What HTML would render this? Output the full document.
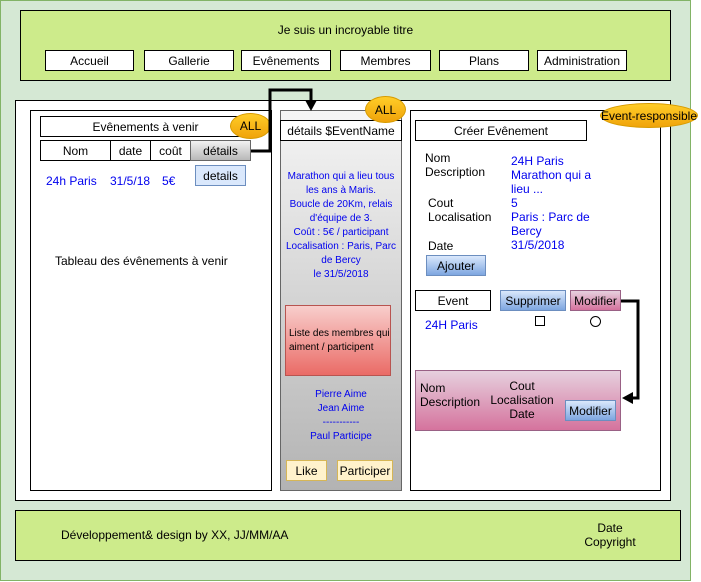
<!DOCTYPE html>
<html><head><meta charset="utf-8"><style>
body{margin:0;width:701px;height:582px;position:relative;background:#fff;font-family:"Liberation Sans",sans-serif;overflow:hidden}
.a{position:absolute;box-sizing:border-box}
.b{border:1px solid #000}
.c{display:flex;align-items:center;justify-content:center;text-align:center}
.t{position:absolute;font-size:12px;white-space:nowrap}
.blue{color:#0000ee}
.s{font-size:10px}
.ell{position:absolute;border-radius:50%;background:linear-gradient(#ffcd28,#f0a30a);border:1px solid #d79b00;box-sizing:border-box;display:flex;align-items:center;justify-content:center;font-size:12px;white-space:nowrap}
</style></head><body>
<div class="a" style="left:0;top:0;width:691px;height:581px;background:#d5e8d4;border:1px solid #82b366"></div>
<div class="a b" style="left:20px;top:10px;width:651px;height:71px;background:#cdeb8b"></div>
<div class="t" style="left:20px;width:651px;top:23px;text-align:center">Je suis un incroyable titre</div>
<div class="a b c" style="left:45px;top:50px;width:89px;height:21px;background:#fff;font-size:12px">Accueil</div>
<div class="a b c" style="left:144px;top:50px;width:90px;height:21px;background:#fff;font-size:12px">Gallerie</div>
<div class="a b c" style="left:241px;top:50px;width:90px;height:21px;background:#fff;font-size:12px">Evênements</div>
<div class="a b c" style="left:340px;top:50px;width:91px;height:21px;background:#fff;font-size:12px">Membres</div>
<div class="a b c" style="left:439px;top:50px;width:90px;height:21px;background:#fff;font-size:12px">Plans</div>
<div class="a b c" style="left:537px;top:50px;width:90px;height:21px;background:#fff;font-size:12px">Administration</div>

<div class="a b" style="left:15px;top:100px;width:656px;height:401px;background:#fff"></div>
<!-- left -->
<div class="a b" style="left:30px;top:110px;width:242px;height:381px;background:#fff"></div>
<div class="a b c" style="left:40px;top:116px;width:211px;height:21px;font-size:12px">Evênements à venir</div>
<div class="a b c" style="left:40px;top:140px;width:71px;height:21px;font-size:12px">Nom</div>
<div class="a b c" style="left:110px;top:140px;width:41px;height:21px;font-size:12px">date</div>
<div class="a b c" style="left:150px;top:140px;width:41px;height:21px;font-size:12px">coût</div>
<div class="a b c" style="left:190px;top:140px;width:61px;height:21px;font-size:12px;background:linear-gradient(#f2f2f2,#b8b8b8);border-color:#666">détails</div>
<div class="t blue" style="left:46px;top:174px">24h Paris</div>
<div class="t blue" style="left:110px;top:174px">31/5/18</div>
<div class="t blue" style="left:162px;top:174px">5€</div>
<div class="a c" style="left:195px;top:165px;width:51px;height:21px;font-size:12px;background:#dae8fc;border:1px solid #6c8ebf">details</div>
<div class="t" style="left:55px;top:254px">Tableau des évênements à venir</div>
<div class="ell" style="left:230px;top:113px;width:41px;height:26px">ALL</div>
<!-- middle -->
<div class="a" style="left:280px;top:110px;width:122px;height:381px;background:linear-gradient(#f5f5f5,#b3b3b3);border:1px solid #666"></div>
<div class="a b c" style="left:280px;top:120px;width:122px;height:21px;background:#fff;font-size:12px">détails $EventName</div>
<div class="t blue s" style="left:281px;width:120px;top:170px;text-align:center;line-height:14px;white-space:normal">Marathon qui a lieu tous les ans à Maris.<br>Boucle de 20Km, relais d'équipe de 3.<br>Coût : 5€ / participant<br>Localisation : Paris, Parc de Bercy<br>le 31/5/2018</div>
<div class="a" style="left:285px;top:305px;width:106px;height:71px;background:linear-gradient(#f8cecc,#ea6b66);border:1px solid #b85450;font-size:10px;display:flex;align-items:center;padding-left:3px;line-height:14px">Liste des membres qui aiment / participent</div>
<div class="t blue s" style="left:281px;width:120px;top:388px;text-align:center;line-height:14px">Pierre Aime<br>Jean Aime<br>-----------<br>Paul Participe</div>
<div class="a c" style="left:286px;top:460px;width:41px;height:21px;background:#fff2cc;border:1px solid #d6b656;font-size:12px">Like</div>
<div class="a c" style="left:337px;top:460px;width:56px;height:21px;background:#fff2cc;border:1px solid #d6b656;font-size:12px">Participer</div>
<div class="ell" style="left:365px;top:96px;width:41px;height:27px">ALL</div>
<!-- right -->
<div class="a b" style="left:410px;top:110px;width:251px;height:381px;background:#fff"></div>
<div class="a b c" style="left:415px;top:120px;width:172px;height:21px;font-size:12px">Créer Evênement</div>
<div class="t" style="left:425px;top:151px;line-height:14px">Nom<br>Description</div>
<div class="t" style="left:428px;top:196px;line-height:14px">Cout<br>Localisation</div>
<div class="t" style="left:428px;top:239px">Date</div>
<div class="t blue" style="left:511px;top:154px;line-height:14px">24H Paris<br>Marathon qui a<br>lieu ...<br>5<br>Paris : Parc de<br>Bercy<br>31/5/2018</div>
<div class="a c" style="left:426px;top:255px;width:60px;height:21px;background:linear-gradient(#dae8fc,#7ea6e0);border:1px solid #6c8ebf;font-size:12px">Ajouter</div>
<div class="a b c" style="left:415px;top:290px;width:76px;height:21px;font-size:12px">Event</div>
<div class="a c" style="left:500px;top:290px;width:66px;height:21px;background:linear-gradient(#dae8fc,#7ea6e0);border:1px solid #6c8ebf;font-size:12px">Supprimer</div>
<div class="a c" style="left:570px;top:290px;width:51px;height:21px;background:linear-gradient(#e6d0de,#d5739d);border:1px solid #996185;font-size:12px">Modifier</div>
<div class="t blue" style="left:425px;top:318px">24H Paris</div>
<div class="a b" style="left:535px;top:316px;width:10px;height:10px"></div>
<div class="a b" style="left:590px;top:316px;width:11px;height:11px;border-radius:50%"></div>
<div class="a" style="left:415px;top:370px;width:206px;height:61px;background:linear-gradient(#e6d0de,#d5739d);border:1px solid #996185"></div>
<div class="t" style="left:420px;top:381px;line-height:14px">Nom<br>Description</div>
<div class="t" style="left:486px;top:379px;width:72px;text-align:center;line-height:14px">Cout<br>Localisation<br>Date</div>
<div class="a c" style="left:565px;top:400px;width:51px;height:21px;background:linear-gradient(#dae8fc,#7ea6e0);border:1px solid #6c8ebf;font-size:12px">Modifier</div>
<div class="ell" style="left:600px;top:103px;width:98px;height:25px">Event-responsible</div>
<!-- footer -->
<div class="a b" style="left:15px;top:510px;width:666px;height:51px;background:#cdeb8b"></div>
<div class="t" style="left:61px;top:528px">Développement&amp; design by XX, JJ/MM/AA</div>
<div class="t" style="left:560px;top:521px;width:100px;text-align:center;line-height:14px">Date<br>Copyright</div>
<svg class="a" style="left:0;top:0" width="701" height="582">
<polyline points="251,151 270,151 270,90 311,90 311,102" fill="none" stroke="#000" stroke-width="3"/>
<polygon points="305,100 317,100 311,111" fill="#000"/>
<polyline points="621,301 638,301 638,398 632,398" fill="none" stroke="#000" stroke-width="3"/>
<polygon points="633,392 633,404 622,398" fill="#000"/>
</svg>
</body></html>
